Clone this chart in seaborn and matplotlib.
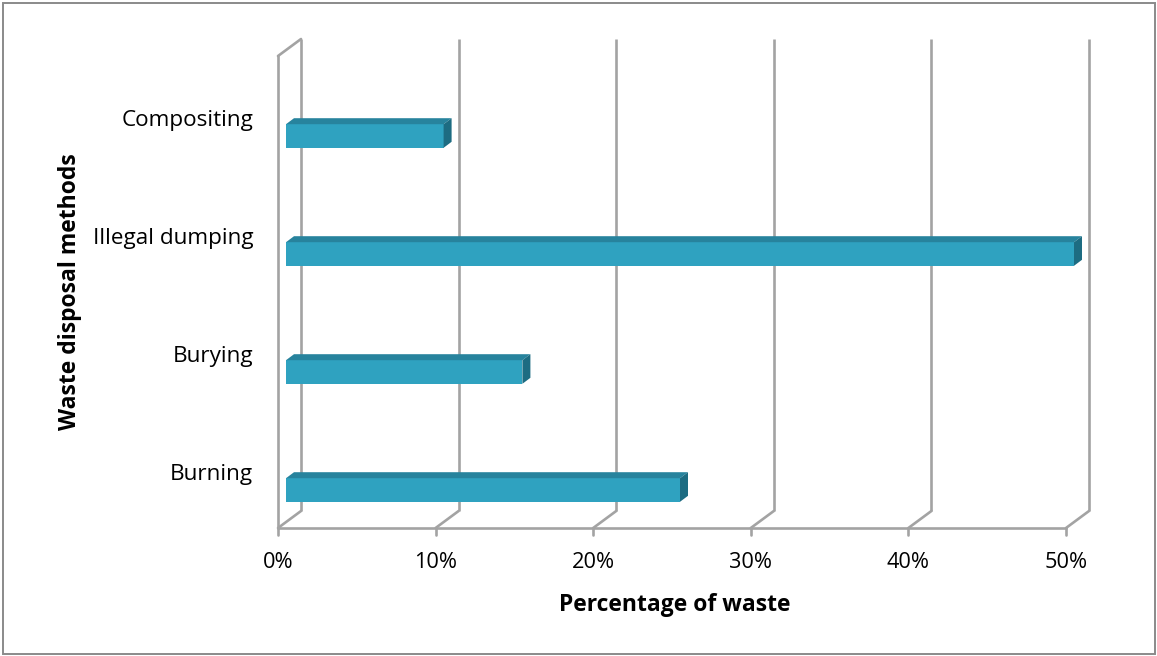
import matplotlib
matplotlib.use("Agg")
import matplotlib.pyplot as plt
import matplotlib.transforms as mtrans
from matplotlib.patches import Polygon, Rectangle
import seaborn as sns
import pandas as pd

# ---- data ----
categories = ["Compositing", "Illegal dumping", "Burying", "Burning"]
values = [10, 50, 15, 25]
tick_values = [0, 10, 20, 30, 40, 50]
tick_labels = ["0%", "10%", "20%", "30%", "40%", "50%"]
x_title = "Percentage of waste"
y_title = "Waste disposal methods"

df = pd.DataFrame({"method": categories, "pct": values})

sns.set_theme(style="white")
plt.rcParams["font.family"] = ["Open Sans", "DejaVu Sans"]

W, H = 1157, 656
fig = plt.figure(figsize=(W / 100, H / 100), dpi=100)
fig.patch.set_facecolor("white")

# axes box in image pixels
ax_l, ax_r, ax_t, ax_b = 270, 1110, 30, 540
ax = fig.add_axes([ax_l / W, 1 - ax_b / H, (ax_r - ax_l) / W, (ax_b - ax_t) / H])

front_col = "#2FA2C0"
top_col = "#27839D"
side_col = "#1D6C82"
grid_col = "#A3A3A3"

sns.barplot(data=df, x="pct", y="method", orient="h", color=front_col,
            saturation=1, width=0.2, linewidth=0, ax=ax, zorder=3)

# scale: value 0 -> px 286, 50 -> px 1074 ; category 0 -> px 136, 3 -> px 490
sx = (1074 - 286) / 50.0
sy = (490 - 136) / 3.0
ax.set_xlim((ax_l - 286) / sx, (ax_r - 286) / sx)
ax.set_ylim((ax_b - 136) / sy, (ax_t - 136) / sy)

# 3-D frame offsets (pixels -> data)
bar_dx, bar_dy = 8 / sx, 6 / sy          # bar depth (right, up)
f_dx, f_dy = -8 / sx, 6 / sy             # front plane shift (left, down)
b_dx, b_dy = 15 / sx, -11 / sy           # back plane shift (right, up)
y_floor = (522 - 136) / sy
y_wtop = (50 - 136) / sy
lw = 1.9

# back wall gridlines + floor diagonals + front ticks
for t in tick_values:
    ax.plot([t + b_dx, t + b_dx], [y_wtop + b_dy, y_floor + b_dy], color=grid_col, lw=lw, zorder=1,
            solid_capstyle="butt")
    ax.plot([t + f_dx, t + b_dx], [y_floor + f_dy, y_floor + b_dy], color=grid_col, lw=lw, zorder=1)
    ax.plot([t + f_dx, t + f_dx], [y_floor + f_dy, y_floor + f_dy + 7 / sy], color=grid_col, lw=lw, zorder=1)
# front floor edge
ax.plot([tick_values[0] + f_dx, tick_values[-1] + f_dx], [y_floor + f_dy, y_floor + f_dy],
        color=grid_col, lw=lw, zorder=1)
# left wall front edge and top diagonal
ax.plot([f_dx, f_dx], [y_floor + f_dy, y_wtop + f_dy], color=grid_col, lw=lw, zorder=1)
ax.plot([f_dx, b_dx], [y_wtop + f_dy, y_wtop + b_dy], color=grid_col, lw=lw, zorder=1)

# 3-D faces on bars
for p in list(ax.patches):
    x0, w = p.get_x(), p.get_width()
    y0, h = p.get_y(), p.get_height()
    top = [(x0, y0), (x0 + w, y0), (x0 + w + bar_dx, y0 - bar_dy), (x0 + bar_dx, y0 - bar_dy)]
    side = [(x0 + w, y0), (x0 + w, y0 + h), (x0 + w + bar_dx, y0 + h - bar_dy), (x0 + w + bar_dx, y0 - bar_dy)]
    ax.add_patch(Polygon(top, closed=True, facecolor=top_col, edgecolor="none", zorder=3))
    ax.add_patch(Polygon(side, closed=True, facecolor=side_col, edgecolor="none", zorder=3))

for s in ax.spines.values():
    s.set_visible(False)
ax.grid(False)

ax.set_xticks(tick_values)
ax.set_xticklabels(tick_labels)
ax.set_yticks(range(len(categories)))
ax.set_yticklabels(categories)
ax.tick_params(axis="x", length=0, pad=9, labelsize=15.7, labelcolor="black")
ax.tick_params(axis="y", length=0, pad=12, labelsize=16.2, labelcolor="black")
for lab in ax.get_xticklabels():
    lab.set_transform(lab.get_transform() + mtrans.ScaledTranslation(-8 / 100, 0, fig.dpi_scale_trans))
for lab in ax.get_yticklabels():
    lab.set_transform(lab.get_transform() + mtrans.ScaledTranslation(0, 18 / 100, fig.dpi_scale_trans))

ax.set_xlabel(x_title, fontsize=16.5, fontweight="bold", color="black")
ax.set_ylabel(y_title, fontsize=16.5, fontweight="bold", color="black")
ax.xaxis.set_label_coords((675 - ax_l) / (ax_r - ax_l), (ax_b - 605) / (ax_b - ax_t))
ax.xaxis.label.set_va("center")
ax.yaxis.set_label_coords((70 - ax_l) / (ax_r - ax_l), (ax_b - 292) / (ax_b - ax_t))
ax.yaxis.label.set_va("center")

fig.patches.append(Rectangle((2.5 / W, 2.5 / H), (W - 5) / W, (H - 5) / H, transform=fig.transFigure,
                             fill=False, edgecolor="#8A8A8A", lw=1.4))

fig.savefig("out.png", dpi=100)
